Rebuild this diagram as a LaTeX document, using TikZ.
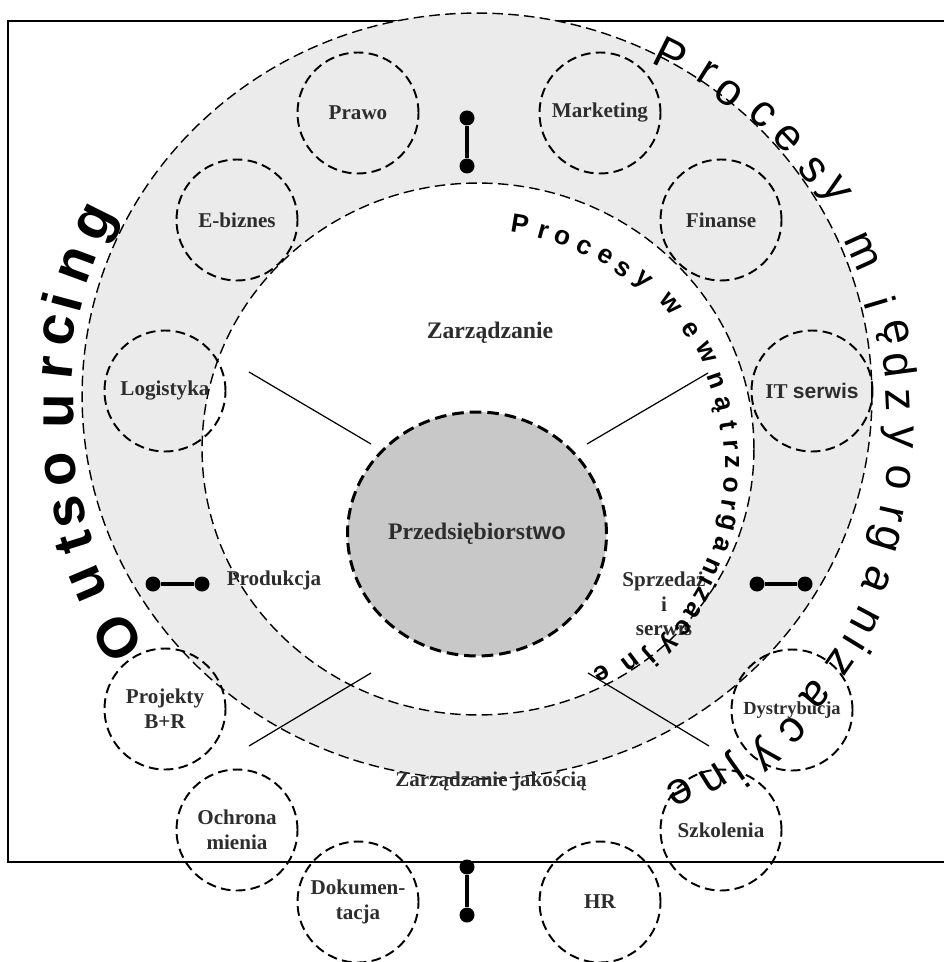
\documentclass[tikz,border=0pt]{standalone}
\usepackage{fontspec}
\setmainfont{Liberation Serif}
\setsansfont{Liberation Sans}
\usetikzlibrary{shapes.geometric}
\definecolor{ringGray}{RGB}{235,235,235}
\definecolor{coreGray}{RGB}{200,200,200}
\definecolor{labelGray}{RGB}{45,45,45}

\begin{document}
\begin{tikzpicture}[x=0.02cm,y=-0.02cm,
  lbl/.style={font=\bfseries\fontsize{12}{14}\selectfont,text=labelGray,align=center},
  sub/.style={circle,draw,dash pattern=on 5.5pt off 3pt,line width=1.1pt,
              minimum size=2.42cm,inner sep=0pt,lbl},
  ring/.style={ellipse,draw,dash pattern=on 6pt off 3pt,line width=0.8pt,inner sep=0pt},
  dot/.style={circle,fill=black,inner sep=0pt,minimum size=0.3cm},
  bar/.style={line width=1.8pt},
  spoke/.style={line width=0.7pt},
  outTxt/.style={font=\sffamily\bfseries\fontsize{32}{34}\selectfont,inner sep=0pt},
  midTxt/.style={font=\sffamily\fontsize{25.5}{27}\selectfont,inner sep=0pt},
  inTxt/.style={font=\sffamily\bfseries\fontsize{15}{17}\selectfont,inner sep=0pt}
]
  \useasboundingbox (0,0) rectangle (943,962);
  \draw[line width=0.75pt] (8,21) rectangle (970,862);
  % rings
  \node[ring,fill=ringGray,minimum width=15.8cm,minimum height=15.32cm](outer) at (477,396) {};
  \node[ring,fill=white,minimum width=11.04cm,minimum height=10.64cm](inner) at (478,449) {};
  \node[ellipse,draw,fill=coreGray,dash pattern=on 6.6pt off 3.4pt,line width=1.7pt,
        minimum width=5.18cm,minimum height=4.88cm,inner sep=0pt,
        font=\bfseries\fontsize{13.5}{15}\selectfont,text=labelGray](core) at (477,534)
        {Przedsiębiorst\textsf{wo}};
  % outsourced functions
  \node[sub](prawo)  at (358,113) {Prawo};
  \node[sub](mark)   at (600,113) {Marketing};
  \node[sub](ebiz)   at (237,220) {E-biznes};
  \node[sub](fin)    at (721,220) {Finanse};
  \node[sub](log)    at (165,391) {Logistyka};
  \node[sub](itserw) at (812,391) {IT \textsf{serwis}};
  \node[sub](proj)   at (165,709) {Projekty\\B+R};
  \node[sub,font=\bfseries\fontsize{10.5}{12}\selectfont](dyst) at (792,710) {Dystrybucja};
  \node[sub](ochr)   at (237,830) {Ochrona\\mienia};
  \node[sub](szk)    at (721,830) {Szkolenia};
  \node[sub](dok)    at (358,902) {Dokumen-\\tacja};
  \node[sub](hr)     at (600,902) {HR};
  % internal areas
  \node[lbl,font=\bfseries\fontsize{13.5}{15}\selectfont](zarz) at (490,333) {Zarządzanie};
  \node[lbl](prod) at (274,580) {Produkcja};
  \node[lbl](sprz) at (664,604) {Sprzedaż\\i\\serwis};
  \node[lbl](jak)  at (491,781) {Zarządzanie jakością};
  \coordinate (ulA) at (249,372); \coordinate (ulB) at (371,444);
  \coordinate (urA) at (708,373); \coordinate (urB) at (587,444);
  \coordinate (llA) at (249,746); \coordinate (llB) at (371,673);
  \coordinate (lrA) at (709,746); \coordinate (lrB) at (588,673);
  \draw[spoke](ulA)--(ulB); \draw[spoke](urA)--(urB);
  \draw[spoke](llA)--(llB); \draw[spoke](lrA)--(lrB);
  % links
  \node[dot](tA) at (467,118) {}; \node[dot](tB) at (467,166) {};
  \node[dot](bA) at (467,867) {}; \node[dot](bB) at (467,915) {};
  \node[dot](lA) at (153,584) {}; \node[dot](lB) at (202,584) {};
  \node[dot](rA) at (757,584) {}; \node[dot](rB) at (805,584) {};
  \draw[bar](tA)--(tB); \draw[bar](bA)--(bB);
  \draw[bar](lA)--(lB); \draw[bar](rA)--(rB);
  % lettering round the rings
  \foreach \ch/\px/\py [count=\i] in {O/118/638,u/88/583,t/74/543,s/69/512,o/61/469,
      u/59/411,r/58/368,c/59/330,i/62/302,n/77/265,g/100/225}{
    \pgfmathsetmacro\rot{atan2(415-\py,\px-483)-90}
    \node[outTxt,rotate=\rot](out\i) at (\px,\py) {\ch};
  }
  \foreach \ch/\px/\py [count=\i] in {P/671/55,r/707/73,o/729/93,c/763/114,e/788/138,
      s/813/170,y/833/192,m/862/252,i/880/303,ę/892/333,d/900/365,z/898/400,y/897/437,
      o/898/477,r/892/513,g/883/538,a/877/580,n/865/620,i/858/645,z/840/662,a/815/695,
      c/793/730,y/763/753,j/737/770,n/713/778,e/680/792}{
    \pgfmathsetmacro\rot{atan2(420-\py,\px-490)-90}
    \node[midTxt,rotate=\rot](mid\i) at (\px,\py) {\ch};
  }
  \foreach \ch/\px/\py [count=\i] in {P/520/224,r/543/232,o/562/238,c/584/247,e/605/256,
      s/623/269,y/642/281,w/670/304,e/690/330,w/706/353,n/716/381,ą/720/405,t/729/426,
      r/731/445,z/732/462,o/731/485,r/729/505,g/726/522,a/722/545,n/712/567,i/708/582,
      z/702/595,a/693/610,c/683/628,y/667/643,j/650/657,n/630/662,e/602/673}{
    \pgfmathsetmacro\rot{atan2(464-\py,\px-480)-90}
    \node[inTxt,rotate=\rot](in\i) at (\px,\py) {\ch};
  }
\end{tikzpicture}
\end{document}
